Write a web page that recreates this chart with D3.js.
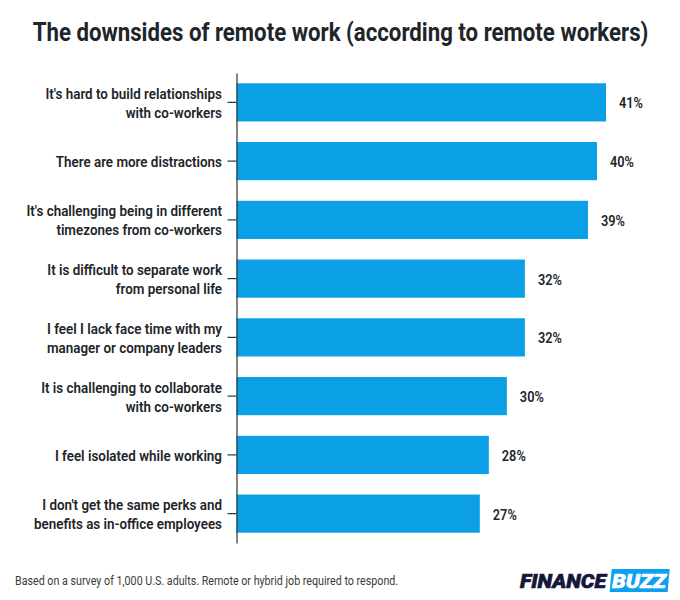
<!DOCTYPE html>
<html>
<head>
<meta charset="utf-8">
<script src="https://cdn.jsdelivr.net/npm/d3@7"></script>
<style>
  html, body { margin: 0; padding: 0; background: #fff; }
  text { font-family: Roboto, sans-serif; }
</style>
</head>
<body>
<svg id="chart"></svg>
<script>
const categories = [
  ["It's hard to build relationships", "with co-workers"],
  ["There are more distractions"],
  ["It's challenging being in different", "timezones from co-workers"],
  ["It is difficult to separate work", "from personal life"],
  ["I feel I lack face time with my", "manager or company leaders"],
  ["It is challenging to collaborate", "with co-workers"],
  ["I feel isolated while working"],
  ["I don't get the same perks and", "benefits as in-office employees"]
];
const values = [41, 40, 39, 32, 32, 30, 28, 27];
const titleText = "The downsides of remote work (according to remote workers)";
const footnote = "Based on a survey of 1,000 U.S. adults. Remote or hybrid job required to respond.";

const width = 680;
const height = 600;

const svg = d3.select("#chart")
  .attr("width", width)
  .attr("height", height)
  .style("display", "block");

// no Roboto Condensed on the box, so squeeze Roboto around its anchor
function squeeze(sel, ratio) {
  sel.attr("transform", function () {
    const ax = +this.getAttribute("x");
    return `translate(${ax * (1 - ratio)},0) scale(${ratio},1)`;
  });
}

const x = d3.scaleLinear().domain([0, 41]).range([236.5, 606]);
const y = d3.scaleBand()
  .domain(d3.range(categories.length))
  .range([73, 543])
  .paddingInner(0.35)
  .paddingOuter(0.175);

svg.append("text")
  .attr("x", 340.5)
  .attr("y", 41)
  .attr("text-anchor", "middle")
  .attr("font-size", 25)
  .attr("font-weight", 700)
  .attr("fill", "#212529")
  .text(titleText)
  .call(squeeze, 0.889);

svg.selectAll(".bar")
  .data(values)
  .enter()
  .append("rect")
  .attr("class", "bar")
  .attr("x", x(0))
  .attr("y", (d, i) => y(i))
  .attr("width", (d) => x(d) - x(0))
  .attr("height", y.bandwidth())
  .attr("fill", "#0ba0e6");

const axis = svg.append("g")
  .attr("transform", `translate(${x(0)},0)`)
  .call(d3.axisLeft(y).tickSize(9).tickSizeOuter(0).tickFormat(""));
axis.selectAll("path, line").attr("stroke", "#333").attr("stroke-width", 1.2);

const labels = svg.selectAll(".label")
  .data(categories)
  .enter()
  .append("g")
  .attr("class", "label");

labels.each(function (lines, i) {
  const mid = y(i) + y.bandwidth() / 2;
  d3.select(this).selectAll("text")
    .data(lines)
    .enter()
    .append("text")
    .attr("x", 222)
    .attr("y", (d, j) => mid + 6 + (j - (lines.length - 1) / 2) * 19)
    .attr("text-anchor", "end")
    .attr("font-size", 14.5)
    .attr("font-weight", 600)
    .attr("fill", "#212529")
    .text((d) => d)
    .call(squeeze, 0.925);
});

svg.selectAll(".value")
  .data(values)
  .enter()
  .append("text")
  .attr("class", "value")
  .attr("x", (d) => x(d) + 13)
  .attr("y", (d, i) => y(i) + y.bandwidth() / 2 + 6)
  .attr("font-size", 14.5)
  .attr("font-weight", 600)
  .attr("fill", "#212529")
  .text((d) => d + "%")
  .call(squeeze, 0.88);

svg.append("text")
  .attr("x", 15)
  .attr("y", 585)
  .attr("font-size", 12)
  .attr("fill", "#3a3a3a")
  .text(footnote)
  .call(squeeze, 0.892);

// logo
const logo = svg.append("g").attr("transform", "translate(520,588)");
logo.append("text")
  .attr("font-size", 20)
  .attr("font-weight", 900)
  .attr("font-style", "italic")
  .attr("fill", "#14163a")
  .attr("stroke", "#14163a")
  .attr("stroke-width", 0.6)
  .attr("textLength", 86)
  .attr("lengthAdjust", "spacingAndGlyphs")
  .text("FINANCE");
logo.append("rect")
  .attr("x", 90)
  .attr("y", -19)
  .attr("width", 58)
  .attr("height", 23)
  .attr("transform", "skewX(-5)")
  .attr("fill", "#0ba0f0");
logo.append("text")
  .attr("x", 92)
  .attr("font-size", 20)
  .attr("font-weight", 900)
  .attr("font-style", "italic")
  .attr("fill", "#fff")
  .attr("stroke", "#fff")
  .attr("stroke-width", 0.6)
  .attr("textLength", 54)
  .attr("lengthAdjust", "spacingAndGlyphs")
  .text("BUZZ");
</script>
</body>
</html>
